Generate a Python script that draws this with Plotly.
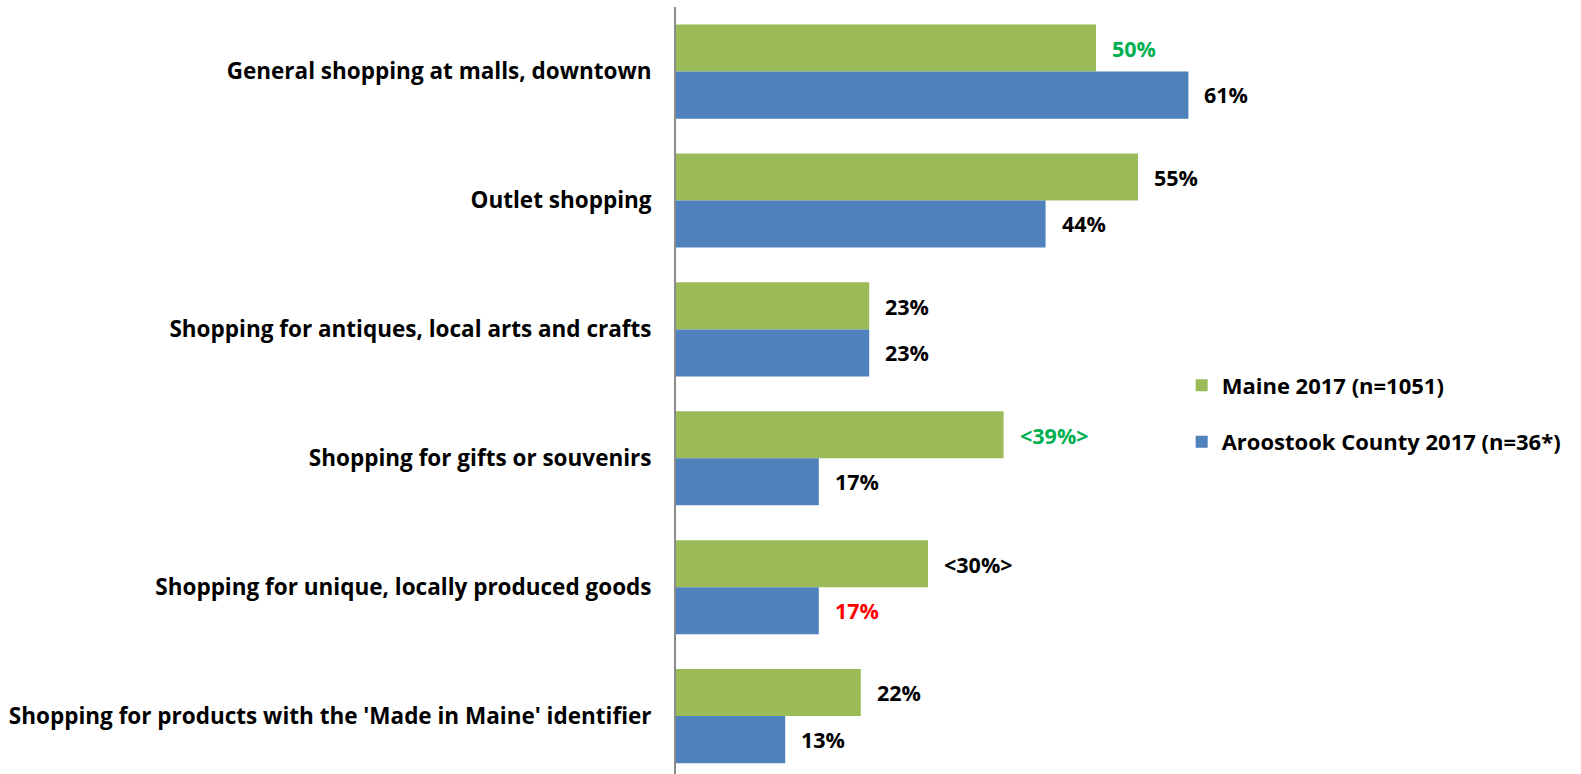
import plotly.graph_objects as go

categories = [
    "General shopping at malls, downtown",
    "Outlet shopping",
    "Shopping for antiques, local arts and crafts",
    "Shopping for gifts or souvenirs",
    "Shopping for unique, locally produced goods",
    "Shopping for products with the 'Made in Maine' identifier",
]
maine_2017 = [50, 55, 23, 39, 30, 22]
aroostook_2017 = [61, 44, 23, 17, 17, 13]
maine_labels = ["50%", "55%", "23%", "<39%>", "<30%>", "22%"]
aroostook_labels = ["61%", "44%", "23%", "17%", "17%", "13%"]
maine_label_colors = ["#00B050", "black", "black", "#00B050", "black", "black"]
aroostook_label_colors = ["black", "black", "black", "black", "#FF0000", "black"]

GREEN = "#9BBB59"
BLUE = "#4F81BD"
FONT = "Open Sans"
SIZE = 21.5

fig = go.Figure()
fig.add_trace(go.Bar(
    y=categories, x=maine_2017, orientation="h", name="Maine 2017 (n=1051)",
    marker=dict(color=GREEN, line=dict(width=0)), legendgroup="m",
))
fig.add_trace(go.Bar(
    y=categories, x=aroostook_2017, orientation="h", name="Aroostook County 2017 (n=36*)",
    marker=dict(color=BLUE, line=dict(width=0)), legendgroup="a",
))

# value labels beside each bar end
annotations = []
for i, cat in enumerate(categories):
    for val, lab, col, off in (
        (maine_2017[i], maine_labels[i], maine_label_colors[i], -0.18),
        (aroostook_2017[i], aroostook_labels[i], aroostook_label_colors[i], 0.18),
    ):
        annotations.append(dict(
            x=val, y=i + off, xref="x", yref="y", text=lab, showarrow=False,
            xanchor="left", yanchor="middle", xshift=14,
            font=dict(family=FONT, size=SIZE, color=col, weight="bold"),
        ))

fig.update_layout(
    width=1581, height=774,
    margin=dict(l=676, r=317, t=7, b=0, autoexpand=False),
    paper_bgcolor="white", plot_bgcolor="white",
    barmode="group", bargap=0.27, bargroupgap=0,
    font=dict(family=FONT, size=SIZE, color="black", weight="bold"),
    annotations=annotations,
    legend=dict(
        xref="paper", yref="paper", x=0.86, y=0.534,
        xanchor="left", yanchor="top", traceorder="grouped",
        tracegroupgap=25, font=dict(family=FONT, size=22, weight="bold"),
        bgcolor="rgba(0,0,0,0)",
    ),
    xaxis=dict(range=[0, 70], visible=False, showgrid=False, zeroline=False),
    yaxis=dict(
        type="category", range=[5.449, -0.501], showgrid=False, zeroline=False,
        showline=True, linecolor="#8C8C8C", linewidth=2, ticks="",
        ticklabelstandoff=18,
        tickfont=dict(family=FONT, size=22.5, color="black", weight="bold"),
    ),
)

fig.write_html("out.html")
